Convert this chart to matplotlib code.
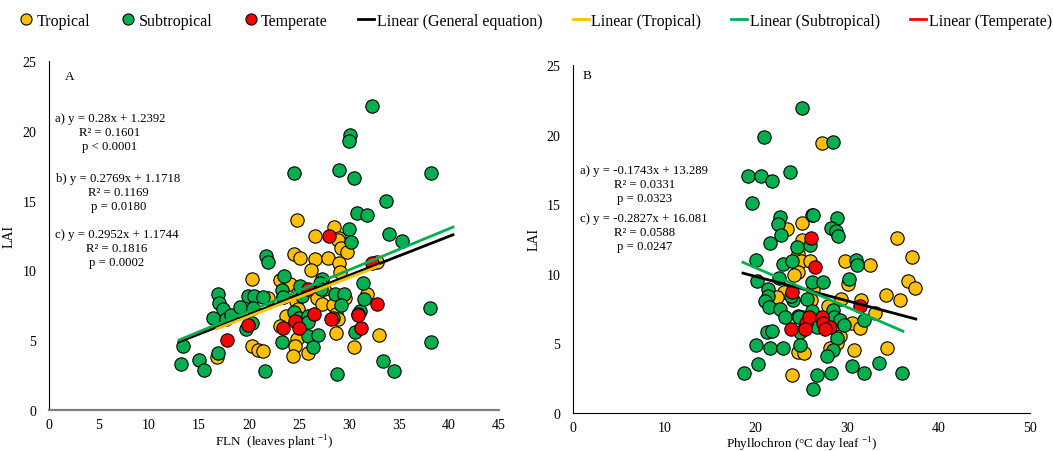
import matplotlib
matplotlib.use("Agg")
import matplotlib.pyplot as plt
from matplotlib.lines import Line2D
import numpy as np

plt.rcParams['font.family'] = ['Liberation Serif', 'DejaVu Serif']
plt.rcParams['mathtext.fontset'] = 'custom'
plt.rcParams['mathtext.rm'] = 'Liberation Serif'

# FLN vs LAI
trop_fln = [24.8, 28.5, 26.6, 29.0, 28.9, 29.2, 29.8, 24.5, 25.1, 26.6, 27.9, 29.0, 26.2, 29.1,
            32.8, 20.3, 23.1, 24.1, 24.9, 27.5, 21.9, 23.4, 24.7, 26.8, 27.3, 28.4, 29.6, 31.8,
            24.9, 23.7, 28.7, 28.9, 23.1, 28.7, 33.0, 24.8, 24.6, 20.3, 20.9, 21.4, 25.9, 24.4,
            30.5, 16.8]
trop_lai_a = [13.6, 13.1, 12.5, 12.3, 12.2, 11.6, 11.3, 11.2, 10.9, 10.8, 10.9, 10.5, 10.0, 9.9,
              10.6, 9.4, 9.3, 9.0, 8.4, 8.7, 8.0, 8.1, 7.8, 8.0, 7.6, 7.5, 8.0, 8.3,
              7.2, 6.7, 6.9, 6.5, 6.0, 5.5, 5.4, 5.1, 4.6, 4.6, 4.3, 4.2, 4.06, 3.85,
              4.5, 3.8]
sub_fln = [32.3, 30.1, 30.0, 24.5, 29.0, 30.5, 38.2, 33.7, 30.8, 31.8, 30.0, 34.0, 35.3, 30.2,
           21.7, 21.9, 23.5, 25.1, 27.3, 27.1, 31.4, 16.9, 17.0, 17.4, 16.4, 17.7, 18.2, 19.1,
           19.9, 20.5, 21.4, 20.4, 23.3, 23.4, 25.3, 28.6, 29.5, 29.2, 28.4, 31.1, 30.9, 31.5,
           19.7, 20.3, 24.5, 25.0, 25.9, 25.9, 25.9, 26.9, 23.3, 26.4, 30.6, 38.1, 38.2, 13.4,
           13.2, 15.0, 15.5, 16.9, 21.6, 28.8, 33.4, 34.5, 27.2]
sub_lai_a = [21.8, 19.7, 19.3, 17.0, 17.2, 16.6, 17.0, 15.0, 14.1, 14.0, 13.0, 12.6, 12.1, 12.0,
             11.0, 10.6, 9.6, 8.9, 9.4, 9.1, 9.1, 8.3, 7.7, 7.2, 6.6, 6.5, 6.8, 7.4,
             8.2, 8.2, 8.1, 7.3, 8.6, 8.1, 8.2, 8.3, 8.3, 7.5, 6.6, 7.1, 6.9, 7.95,
             5.8, 6.2, 7.0, 6.6, 6.75, 6.3, 5.3, 5.4, 4.85, 4.5, 5.6, 7.3, 4.85, 4.6,
             3.3, 3.55, 2.9, 4.06, 2.8, 2.6, 3.5, 2.8, 8.7]
temp_fln = [28.0, 32.3, 25.9, 32.8, 26.5, 19.9, 24.6, 25.0, 23.4, 28.2, 30.9, 31.2, 17.8]
temp_lai_a = [12.5, 10.5, 8.7, 7.6, 6.9, 6.1, 6.4, 5.9, 5.85, 6.5, 6.8, 5.9, 5.0]

# Phyllochron vs LAI
trop_phyl = [27.2, 25.0, 23.4, 25.0, 35.4, 24.6, 24.9, 25.9, 29.8, 32.5, 37.1, 24.65, 24.2,
             30.05, 36.7, 37.4, 23.1, 22.3, 26.3, 26.0, 29.3, 31.5, 34.2, 35.8, 27.9, 25.0,
             26.4, 30.5, 31.4, 33.0, 29.2, 28.85, 28.1, 24.65, 25.3, 30.7, 34.3, 24.0]
trop_lai_b = [19.4, 13.65, 13.2, 12.4, 12.55, 11.4, 10.9, 10.9, 10.9, 10.6, 11.2, 10.1, 9.9,
              9.3, 9.5, 9.0, 8.7, 8.3, 8.9, 8.1, 8.2, 8.1, 8.5, 8.1, 7.7, 6.9,
              6.75, 6.5, 6.1, 7.2, 5.5, 5.0, 4.7, 4.35, 4.3, 4.5, 4.65, 2.7]
sub_phyl = [25.0, 20.9, 28.4, 19.2, 20.6, 21.8, 23.7, 19.55, 22.6, 22.4, 22.8, 21.55, 26.1,
            26.3, 28.85, 28.2, 28.8, 29.0, 25.9, 24.5, 20.0, 23.0, 24.0, 31.0, 31.1, 30.2,
            20.1, 22.5, 26.1, 27.4, 21.3, 21.3, 21.0, 21.4, 22.6, 23.2, 24.1, 23.9, 25.6,
            24.6, 24.7, 26.1, 26.7, 28.5, 28.6, 29.2, 29.6, 31.8, 21.2, 21.8, 24.8, 28.85,
            20.0, 21.5, 23.0, 24.8, 28.5, 27.8, 20.2, 18.7, 26.7, 28.2, 30.5, 31.8, 33.5,
            36.0, 26.3]
sub_lai_b = [21.9, 19.8, 19.45, 17.05, 17.05, 16.7, 17.3, 15.1, 14.1, 13.6, 12.8, 12.2, 14.2,
             14.2, 14.0, 13.3, 13.1, 12.7, 12.1, 11.9, 11.0, 10.7, 10.9, 11.0, 10.6, 9.6,
             9.5, 9.7, 9.4, 9.4, 8.9, 8.4, 8.05, 7.6, 7.5, 6.9, 8.1, 8.4, 8.2,
             7.0, 6.9, 7.35, 6.2, 7.4, 6.9, 6.7, 6.3, 6.7, 5.8, 5.9, 5.8, 5.4,
             4.9, 4.65, 4.7, 4.9, 4.5, 4.07, 3.5, 2.85, 2.7, 2.9, 3.4, 2.9, 3.6,
             2.9, 1.7]
temp_phyl = [26.0, 26.5, 24.0, 31.4, 25.5, 25.85, 27.2, 27.3, 28.1, 27.6, 25.4, 23.8]
temp_lai_b = [12.6, 10.5, 8.7, 7.7, 6.45, 6.9, 6.9, 6.5, 6.2, 6.0, 6.0, 6.0]

# trendline coefficients (slope, intercept) and x spans
fit_a = {'general': (0.28, 1.2392, 13.0, 40.4),
         'tropical': (0.2769, 1.1718, 16.8, 33.0),
         'subtropical': (0.2952, 1.1744, 13.0, 40.4)}
fit_b = {'general': (-0.1743, 13.289, 18.6, 37.5),
         'subtropical': (-0.2827, 16.081, 18.6, 36.1)}

eq_a = ["a) y = 0.28x + 1.2392\nR² = 0.1601\np < 0.0001",
        "b) y = 0.2769x + 1.1718\nR² = 0.1169\np = 0.0180",
        "c) y = 0.2952x + 1.1744\nR² = 0.1816\np = 0.0002"]
eq_b = ["a) y = -0.1743x + 13.289\nR² = 0.0331\np = 0.0323",
        "c) y = -0.2827x + 16.081\nR² = 0.0588\np = 0.0247"]

YEL = '#FFC000'
GRN = '#00B050'
RED = '#FF0000'
line_col = {'general': 'black', 'tropical': YEL, 'subtropical': GRN}

fig = plt.figure(figsize=(10.53, 4.52), dpi=100)
axA = fig.add_axes([49 / 1053, 1 - 411 / 452, 450 / 1053, 349 / 452])
axB = fig.add_axes([573 / 1053, 1 - 414 / 452, 457 / 1053, 348 / 452])


def draw(ax, tx, ty, sx, sy, rx, ry, fits):
    kw = dict(s=92, edgecolors='black', linewidths=0.8)
    ax.scatter(tx, ty, color=YEL, zorder=2, **kw)
    ax.scatter(sx, sy, color=GRN, zorder=3, **kw)
    ax.scatter(rx, ry, color=RED, zorder=4, **kw)
    for k, (m, b, x0, x1) in fits.items():
        xs = np.array([x0, x1])
        ax.plot(xs, m * xs + b, color=line_col[k], lw=2, zorder=5)
    ax.set_ylim(0, 25)
    ax.set_yticks(range(0, 26, 5))
    ax.spines['top'].set_visible(False)
    ax.spines['right'].set_visible(False)
    ax.tick_params(length=0, labelsize=10, pad=9)
    ax.tick_params(axis='x', pad=6)
    ax.set_ylabel('LAI', fontsize=10)


draw(axA, trop_fln, trop_lai_a, sub_fln, sub_lai_a, temp_fln, temp_lai_a, fit_a)
axA.set_xlim(0, 45)
axA.set_xticks(range(0, 46, 5))
axA.spines['bottom'].set_color('#808080')
axA.spines['bottom'].set_linewidth(1.6)
axA.set_xlabel('FLN  (leaves plant $^{\\mathregular{-1}}$)', fontsize=9.5, labelpad=1)
axA.yaxis.set_label_coords(-0.075, 0.5)
axA.text(1.6, 23.9, 'A', fontsize=9.5, va='center')
for txt, (x, y) in zip(eq_a, [(6.1, 19.9), (6.95, 15.6), (6.8, 11.6)]):
    axA.text(x, y, txt, fontsize=9.2, ha='center', va='center', multialignment='center',
             linespacing=1.25)

draw(axB, trop_phyl, trop_lai_b, sub_phyl, sub_lai_b, temp_phyl, temp_lai_b, fit_b)
axB.set_xlim(0, 50)
axB.set_xticks(range(0, 51, 10))
axB.set_xlabel('Phyllochron (°C day leaf $^{\\mathregular{-1}}$)', fontsize=9.5, labelpad=0)
axB.yaxis.set_label_coords(-0.072, 0.5)
axB.text(1.0, 24.3, 'B', fontsize=9.5, va='center')
for txt, (x, y) in zip(eq_b, [(7.8, 16.45), (7.8, 13.0)]):
    axB.text(x, y, txt, fontsize=9.2, ha='center', va='center', multialignment='center',
             linespacing=1.25)

handles = [
    Line2D([], [], ls='none', marker='o', ms=8, mfc=YEL, mec='black', mew=0.8),
    Line2D([], [], ls='none', marker='o', ms=8, mfc=GRN, mec='black', mew=0.8),
    Line2D([], [], ls='none', marker='o', ms=8, mfc=RED, mec='black', mew=0.8),
    Line2D([], [], color='black', lw=2),
    Line2D([], [], color=YEL, lw=2),
    Line2D([], [], color=GRN, lw=2),
    Line2D([], [], color=RED, lw=2),
]
labels = ['Tropical', 'Subtropical', 'Temperate', 'Linear (General equation)',
          'Linear (Tropical)', 'Linear (Subtropical)', 'Linear (Temperate)']
fig.legend(handles, labels, loc='center left', bbox_to_anchor=(18 / 1053, 1 - 22 / 452),
           ncol=7, frameon=False, fontsize=11.5, handlelength=1.0, handletextpad=0.15,
           columnspacing=1.9, borderaxespad=0, borderpad=0)

fig.savefig('out.png', dpi=100)
